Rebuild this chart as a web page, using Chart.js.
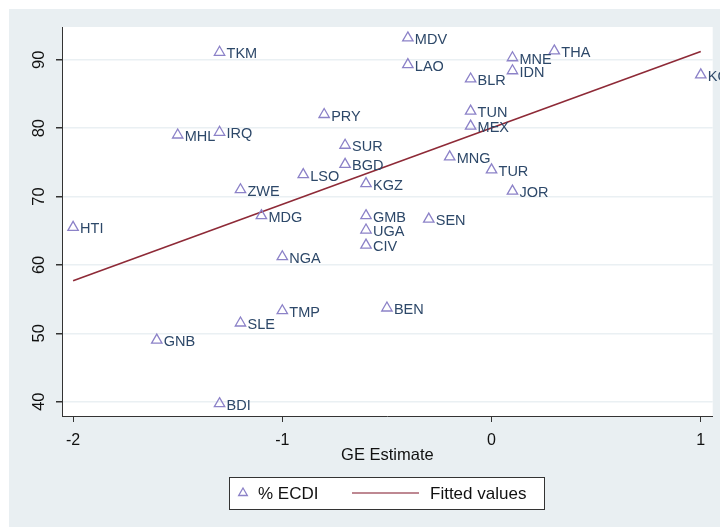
<meta charset="UTF-8">
<title>ECDI vs GE Estimate</title>
<script src="https://cdn.jsdelivr.net/npm/chart.js"></script>
<style>
  body { margin: 0; background: #ffffff; }
  #wrap { position: absolute; left: 9px; top: 9px; }
</style>

<script>
// country codes, GE estimate (x) and % ECDI (y)
var codes = ['TKM','MHL','IRQ','PRY','SUR','BGD','LSO','ZWE','MDG','HTI','NGA',
             'MDV','LAO','MNE','THA','IDN','BLR','KOR','TUN','MEX','MNG','TUR',
             'JOR','KGZ','GMB','UGA','CIV','SEN','BEN','TMP','SLE','GNB','BDI'];
var geEstimate = [-1.3,-1.5,-1.3,-0.8,-0.7,-0.7,-0.9,-1.2,-1.1,-2.0,-1.0,
                  -0.4,-0.4,0.1,0.3,0.1,-0.1,1.0,-0.1,-0.1,-0.2,0.0,
                  0.1,-0.6,-0.6,-0.6,-0.6,-0.3,-0.5,-1.0,-1.2,-1.6,-1.3];
var ecdi = [91.1,79.0,79.4,82.0,77.5,74.7,73.2,71.0,67.2,65.5,61.2,
            93.2,89.3,90.3,91.3,88.4,87.2,87.8,82.5,80.3,75.8,73.9,
            70.8,71.9,67.2,65.1,62.9,66.7,53.7,53.3,51.5,49.0,39.7];

// fitted values at the two ends of the range
var fitX = [-2, 1];
var fitY = [57.7, 91.2];

var xTicks = [-2, -1, 0, 1];
var yTicks = [40, 50, 60, 70, 80, 90];

var triColor = '#8c82c8';
var lineColor = '#8e2a37';
var labelColor = '#2d4869';
var FONT = '"Liberation Sans", Arial, sans-serif';

function drawChart(){
    var ctx = document.getElementById('ecdiChart').getContext('2d');

    var points = geEstimate.map(function(v, i){ return {x: v, y: ecdi[i]}; });
    var fitted = fitX.map(function(v, i){ return {x: v, y: fitY[i]}; });

    var background = {
        id: 'background',
        beforeDraw: function(chart){
            var c = chart.ctx, a = chart.chartArea;
            c.save();
            c.fillStyle = '#e9eff2';
            c.fillRect(0, 0, chart.width, chart.height);
            c.fillStyle = '#ffffff';
            c.fillRect(a.left, a.top, a.right - a.left, a.bottom - a.top);
            c.restore();
        }
    };

    var pointLabels = {
        id: 'pointLabels',
        afterDatasetsDraw: function(chart){
            var c = chart.ctx;
            var meta = chart.getDatasetMeta(0);
            c.save();
            c.font = '14.5px ' + FONT;
            c.fillStyle = labelColor;
            c.textBaseline = 'middle';
            c.textAlign = 'left';
            meta.data.forEach(function(p, i){
                c.fillText(codes[i], p.x + 7, p.y + 2);
            });
            c.restore();
        }
    };

    var legendBox = {
        id: 'legendBox',
        afterDraw: function(chart){
            var c = chart.ctx;
            var left = 220, top = 468, w = 315, h = 32;
            var mid = top + h / 2;
            c.save();
            c.fillStyle = '#ffffff';
            c.fillRect(left, top, w, h);
            c.strokeStyle = '#333333';
            c.lineWidth = 1;
            c.strokeRect(left + 0.5, top + 0.5, w, h);
            c.strokeStyle = triColor;
            c.lineWidth = 1.3;
            Chart.helpers.drawPoint(c, {pointStyle: 'triangle', radius: 5, borderWidth: 1.3}, left + 14, mid);
            c.fillStyle = '#111111';
            c.font = '17px ' + FONT;
            c.textBaseline = 'middle';
            c.fillText('% ECDI', left + 29, mid + 1);
            c.strokeStyle = '#a8606e';
            c.lineWidth = 1.3;
            c.beginPath();
            c.moveTo(left + 123, mid);
            c.lineTo(left + 190, mid);
            c.stroke();
            c.fillText('Fitted values', left + 201, mid + 1);
            c.restore();
        }
    };

    new Chart(ctx, {
        type: 'scatter',
        data: {
            datasets: [{
                label: '% ECDI',
                data: points,
                pointStyle: 'triangle',
                pointRadius: 6,
                pointBorderWidth: 1.3,
                pointBorderColor: triColor,
                pointBackgroundColor: 'rgba(0,0,0,0)',
                order: 1
            }, {
                type: 'line',
                label: 'Fitted values',
                data: fitted,
                borderColor: lineColor,
                borderWidth: 1.6,
                pointRadius: 0,
                fill: false,
                order: 2
            }]
        },
        options: {
            responsive: false,
            animation: false,
            layout: { padding: { top: 18, right: 6, bottom: 51, left: 0 } },
            scales: {
                x: {
                    type: 'linear',
                    min: -2.053,
                    max: 1.057,
                    afterBuildTicks: function(s){ s.ticks = xTicks.map(function(v){ return {value: v}; }); },
                    afterFit: function(s){ s.height = 60; },
                    grid: { drawOnChartArea: false, tickLength: 6, tickColor: '#333333' },
                    border: { color: '#333333', width: 1 },
                    ticks: { color: '#111111', font: { family: FONT, size: 16 }, padding: 9 },
                    title: { display: true, text: 'GE Estimate', color: '#111111',
                             font: { family: FONT, size: 16.5 }, padding: { top: 0, bottom: 11 } }
                },
                y: {
                    min: 37.9,
                    max: 94.8,
                    afterBuildTicks: function(s){ s.ticks = yTicks.map(function(v){ return {value: v}; }); },
                    afterFit: function(s){ s.width = 53; },
                    grid: { color: '#eaf0f3', lineWidth: 1.5, tickLength: 6, tickColor: '#333333' },
                    border: { color: '#333333', width: 1 },
                    ticks: { color: '#111111', font: { family: FONT, size: 16.5 }, padding: 7,
                             minRotation: 90, maxRotation: 90, crossAlign: 'center' }
                }
            },
            plugins: {
                legend: { display: false },
                tooltip: { enabled: false }
            }
        },
        plugins: [background, pointLabels, legendBox]
    });
}
</script>

<html>
    <body>
        <div id="wrap">
            <canvas id="ecdiChart" width="711" height="518"></canvas>
        </div>
        <script>drawChart();</script>
    </body>
</html>
